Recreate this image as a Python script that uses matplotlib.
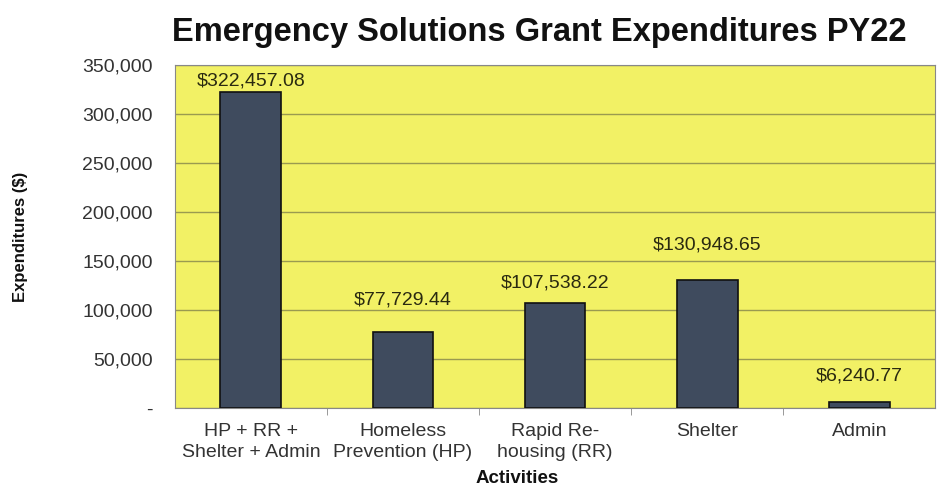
import matplotlib
matplotlib.use("Agg")
import matplotlib.pyplot as plt
from matplotlib.ticker import FuncFormatter

categories = ["HP + RR +\nShelter + Admin", "Homeless\nPrevention (HP)", "Rapid Re-\nhousing (RR)", "Shelter", "Admin"]
values = [322457.08, 77729.44, 107538.22, 130948.65, 6240.77]
yticks = [0, 50000, 100000, 150000, 200000, 250000, 300000, 350000]
# label offsets above each bar (points), as placed in the original
label_offsets_pt = [8, 23, 14, 25, 19]

plt.rcParams['font.family'] = ['Liberation Sans', 'DejaVu Sans']

fig = plt.figure(figsize=(9.4, 4.93), dpi=100)
ax = fig.add_axes([0.186, 0.172, 0.809, 0.696])
ax.set_facecolor('#F2F165')
x = list(range(len(categories)))
ax.bar(x, values, width=0.4, color='#3F4B5E', edgecolor='#111111', linewidth=1.2, zorder=3)
ax.set_xlim(-0.5, len(categories) - 0.5)
ax.set_ylim(0, 350000)
ax.set_yticks(yticks)
ax.yaxis.set_major_formatter(FuncFormatter(lambda v, p: '-' if v == 0 else f"{int(v):,}"))
ax.grid(axis='y', color='#9A9A50', linewidth=1.0, zorder=1)
ax.set_axisbelow(True)
ax.set_xticks(x)
ax.set_xticklabels(categories, fontsize=14, color='#333333', linespacing=1.25)
ax.tick_params(axis='x', length=0, pad=11)
ax.set_xticks([i + 0.5 for i in x[:-1]], minor=True)
ax.tick_params(axis='x', which='minor', length=5, color='#888888')
ax.tick_params(axis='y', length=0, labelsize=14, labelcolor='#333333', pad=16)
for s in ['left', 'top', 'right', 'bottom']:
    ax.spines[s].set_color('#888888')

for xi, v, off in zip(x, values, label_offsets_pt):
    ax.annotate(f"${v:,.2f}", (xi, v), xytext=(0, off), textcoords='offset points',
                ha='center', va='center', fontsize=14, color='#2A2A10', zorder=4)

fig.text(0.574, 0.935, "Emergency Solutions Grant Expenditures PY22", ha='center', va='center',
         fontsize=23.5, fontweight='bold', color='#111111')
fig.text(0.022, 0.52, "Expenditures ($)", rotation=90, ha='center', va='center',
         fontsize=12, fontweight='bold', color='#111111')
fig.text(0.55, 0.03, "Activities", ha='center', va='center', fontsize=13.5,
         fontweight='bold', color='#111111')

fig.savefig("out.png", dpi=100)
